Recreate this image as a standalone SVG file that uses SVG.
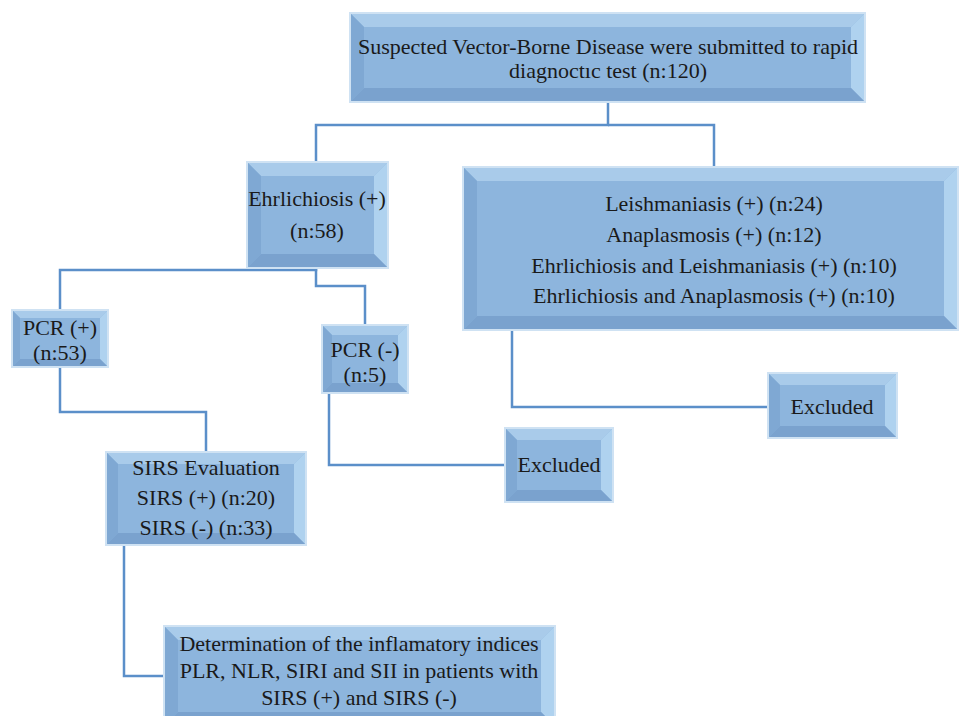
<svg xmlns="http://www.w3.org/2000/svg" width="959" height="716" viewBox="0 0 959 716">
<style>
.c{fill:#8db5dd}
.t{fill:#a9cbea}
.l{fill:#7fa8d3}
.r{fill:#afd2ef}
.b{fill:#7aa2ce}
.o{fill:none;stroke:#cfe2f3;stroke-width:2}
text{font-family:"Liberation Serif","Times New Roman",serif;font-size:22px;fill:#1a1a1a;text-anchor:middle}
.ln{fill:none;stroke:#5b8fc9;stroke-width:2.5}
</style>
<rect width="959" height="716" fill="#ffffff"/>
<g id="connectors">
<polyline class="ln" points="608,102 608,125 316,125 316,162"/>
<polyline class="ln" points="608,125 714,125 714,167"/>
<polyline class="ln" points="316,268 316,270 60,270 60,310"/>
<polyline class="ln" points="316,268 316,286 365,286 365,325"/>
<polyline class="ln" points="60,367 60,412 206,412 206,452"/>
<polyline class="ln" points="329,393 329,465 505,465"/>
<polyline class="ln" points="512,330 512,407 768,407"/>
<polyline class="ln" points="124,545 124,676 164,676"/>
</g>
<g id="n1">
<rect class="c" x="350" y="13" width="515" height="89"/>
<polygon class="t" points="350,13 865,13 851,27 364,27"/>
<polygon class="l" points="350,13 364,27 364,88 350,102"/>
<polygon class="r" points="865,13 865,102 851,88 851,27"/>
<polygon class="b" points="350,102 364,88 851,88 865,102"/>
<rect class="o" x="350" y="13" width="515" height="89"/>
<text x="608" y="54">Suspected Vector-Borne Disease were submitted to rapid</text>
<text x="608" y="78">diagnoctıc test (n:120)</text>
</g>
<g id="n2">
<rect class="c" x="247" y="162" width="141" height="106"/>
<polygon class="t" points="247,162 388,162 374,176 261,176"/>
<polygon class="l" points="247,162 261,176 261,254 247,268"/>
<polygon class="r" points="388,162 388,268 374,254 374,176"/>
<polygon class="b" points="247,268 261,254 374,254 388,268"/>
<rect class="o" x="247" y="162" width="141" height="106"/>
<text x="317" y="206">Ehrlichiosis (+)</text>
<text x="317" y="238">(n:58)</text>
</g>
<g id="n3">
<rect class="c" x="463" y="167" width="495" height="163"/>
<polygon class="t" points="463,167 958,167 944,181 477,181"/>
<polygon class="l" points="463,167 477,181 477,316 463,330"/>
<polygon class="r" points="958,167 958,330 944,316 944,181"/>
<polygon class="b" points="463,330 477,316 944,316 958,330"/>
<rect class="o" x="463" y="167" width="495" height="163"/>
<text x="714" y="211">Leishmaniasis (+) (n:24)</text>
<text x="714" y="242">Anaplasmosis (+) (n:12)</text>
<text x="714" y="273">Ehrlichiosis and Leishmaniasis (+) (n:10)</text>
<text x="714" y="303">Ehrlichiosis and Anaplasmosis (+) (n:10)</text>
</g>
<g id="n4">
<rect class="c" x="12" y="310" width="96" height="57"/>
<polygon class="t" points="12,310 108,310 100,318 20,318"/>
<polygon class="l" points="12,310 20,318 20,359 12,367"/>
<polygon class="r" points="108,310 108,367 100,359 100,318"/>
<polygon class="b" points="12,367 20,359 100,359 108,367"/>
<rect class="o" x="12" y="310" width="96" height="57"/>
<text x="60" y="335">PCR (+)</text>
<text x="60" y="360">(n:53)</text>
</g>
<g id="n5">
<rect class="c" x="322" y="325" width="86" height="68"/>
<polygon class="t" points="322,325 408,325 398,335 332,335"/>
<polygon class="l" points="322,325 332,335 332,383 322,393"/>
<polygon class="r" points="408,325 408,393 398,383 398,335"/>
<polygon class="b" points="322,393 332,383 398,383 408,393"/>
<rect class="o" x="322" y="325" width="86" height="68"/>
<text x="365" y="357">PCR (-)</text>
<text x="365" y="382">(n:5)</text>
</g>
<g id="n6">
<rect class="c" x="106" y="452" width="200" height="93"/>
<polygon class="t" points="106,452 306,452 294,464 118,464"/>
<polygon class="l" points="106,452 118,464 118,533 106,545"/>
<polygon class="r" points="306,452 306,545 294,533 294,464"/>
<polygon class="b" points="106,545 118,533 294,533 306,545"/>
<rect class="o" x="106" y="452" width="200" height="93"/>
<text x="206" y="475">SIRS Evaluation</text>
<text x="206" y="505">SIRS (+) (n:20)</text>
<text x="206" y="535">SIRS (-) (n:33)</text>
</g>
<g id="n7">
<rect class="c" x="505" y="428" width="108" height="74"/>
<polygon class="t" points="505,428 613,428 601,440 517,440"/>
<polygon class="l" points="505,428 517,440 517,490 505,502"/>
<polygon class="r" points="613,428 613,502 601,490 601,440"/>
<polygon class="b" points="505,502 517,490 601,490 613,502"/>
<rect class="o" x="505" y="428" width="108" height="74"/>
<text x="559" y="472">Excluded</text>
</g>
<g id="n8">
<rect class="c" x="768" y="373" width="129" height="65"/>
<polygon class="t" points="768,373 897,373 885,385 780,385"/>
<polygon class="l" points="768,373 780,385 780,426 768,438"/>
<polygon class="r" points="897,373 897,438 885,426 885,385"/>
<polygon class="b" points="768,438 780,426 885,426 897,438"/>
<rect class="o" x="768" y="373" width="129" height="65"/>
<text x="832" y="414">Excluded</text>
</g>
<g id="n9">
<rect class="c" x="164" y="626" width="391" height="100"/>
<polygon class="t" points="164,626 555,626 541,640 178,640"/>
<polygon class="l" points="164,626 178,640 178,712 164,726"/>
<polygon class="r" points="555,626 555,726 541,712 541,640"/>
<polygon class="b" points="164,726 178,712 541,712 555,726"/>
<rect class="o" x="164" y="626" width="391" height="100"/>
<text x="359" y="651">Determination of the inflamatory indices</text>
<text x="359" y="678">PLR, NLR, SIRI and SII in patients with</text>
<text x="359" y="705">SIRS (+) and SIRS (-)</text>
</g>
</svg>
